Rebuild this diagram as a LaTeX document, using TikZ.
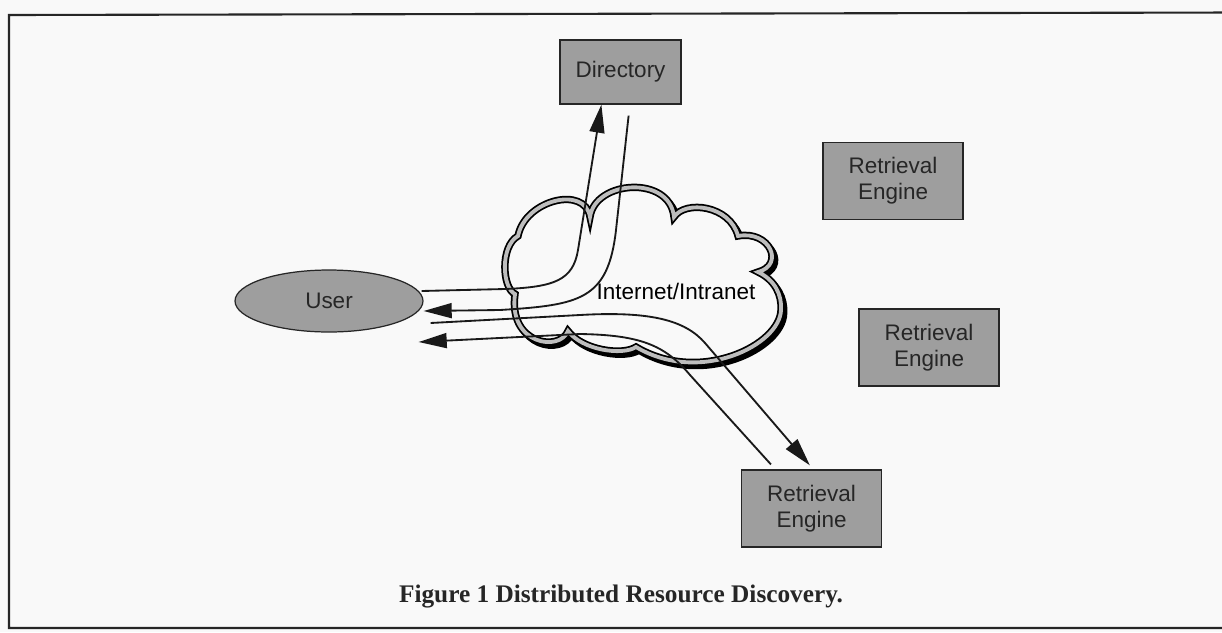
\documentclass[tikz,border=0pt]{standalone}
\usepackage{fontspec}
\setmainfont{Liberation Serif}
\setsansfont{Liberation Sans}
\usetikzlibrary{arrows.meta,calc,shapes.geometric}

\definecolor{paper}{gray}{0.975}
\definecolor{boxgray}{gray}{0.62}
\definecolor{bandgray}{gray}{0.74}
\definecolor{ink}{gray}{0.15}

\tikzset{
  pics/cloud/.style={code={
    \path[pic actions]
      (515,294) .. controls (502,288) and (500,246) .. (518,236)
      .. controls (525,200) and (585,185) .. (590,217)
      .. controls (595,180) and (670,175) .. (674,217)
      .. controls (685,200) and (730,205) .. (738,236)
      .. controls (770,230) and (785,265) .. (758,272)
      .. controls (775,280) and (782,295) .. (781,310)
      .. controls (780,345) and (700,385) .. (636,347)
      .. controls (622,356) and (582,350) .. (568,331)
      .. controls (560,352) and (508,345) .. (515,294) -- cycle;
  }}
}

\begin{document}
\begin{tikzpicture}[x=0.02cm,y=-0.02cm,
  lbl/.style={font=\sffamily\fontsize{12.8}{14.8}\selectfont, text=ink},
  box/.style={lbl, draw=ink, line width=0.7pt, fill=boxgray, align=center,
    minimum width=2.8cm, minimum height=1.54cm, inner sep=0pt},
  userblob/.style={lbl, ellipse, draw=ink, line width=0.7pt, fill=boxgray,
    minimum width=3.76cm, minimum height=1.24cm, inner sep=0pt},
  flow/.style={line width=1.05pt, black!90, -{Triangle[length=16pt,width=8.5pt]}},
]
\useasboundingbox (0,0) rectangle (1222,632);
\fill[paper] (0,0) rectangle (1222,632);

% page frame (right edge runs off the sheet)
\draw[line width=1.2pt, ink] (1240,12.5) -- (9,15) -- (9,628) -- (1240,628);

% the network cloud: drop shadow, then the banded outline
\pic[draw=black, line width=3.8pt] at (3,3.5) {cloud};
\pic[fill=paper, draw=black, line width=1pt, double=bandgray, double distance=2.2pt] at (0,0) {cloud};
\node[lbl, text=black] (net) at (676,291) {Internet/Intranet};

% participants
\node[userblob] (user) at (329,301) {User};
\node[box, minimum width=2.42cm, minimum height=1.28cm] (dir) at (620.5,72) {Directory};
\node[box] (re1) at (893,181) {Retrieval\\Engine};
\node[box] (re2) at (929,347.5) {Retrieval\\Engine};
\node[box] (re3) at (811.5,508.5) {Retrieval\\Engine};

% query to the directory and its reply
\draw[flow] ($(user.east)+(-2,-10)$) -- (505,289)
  .. controls (555,287) and (573,280) .. (578,250)
  -- ($(dir.south west)+(42,0)$);
\draw[flow] ($(dir.south east)+(-53,11)$) -- (616,230)
  .. controls (608,300) and (580,305) .. (500,310)
  -- ($(user.east)+(0,10)$);

% query to a retrieval engine and its reply
\draw[flow] ($(user.east)+(7,22)$) -- (580,315)
  .. controls (650,311) and (685,320) .. (705,343)
  -- ($(re3.north west)+(69,-4)$);
\draw[flow] ($(re3.north west)+(30,-5)$) -- (690,375)
  .. controls (665,345) and (640,335) .. (580,334)
  -- ($(user.east)+(-5,41)$);

% caption
\node[font=\bfseries\fontsize{14.4}{17}\selectfont, text=ink] (cap) at (621,597)
  {Figure 1 Distributed Resource Discovery.};
\end{tikzpicture}
\end{document}
